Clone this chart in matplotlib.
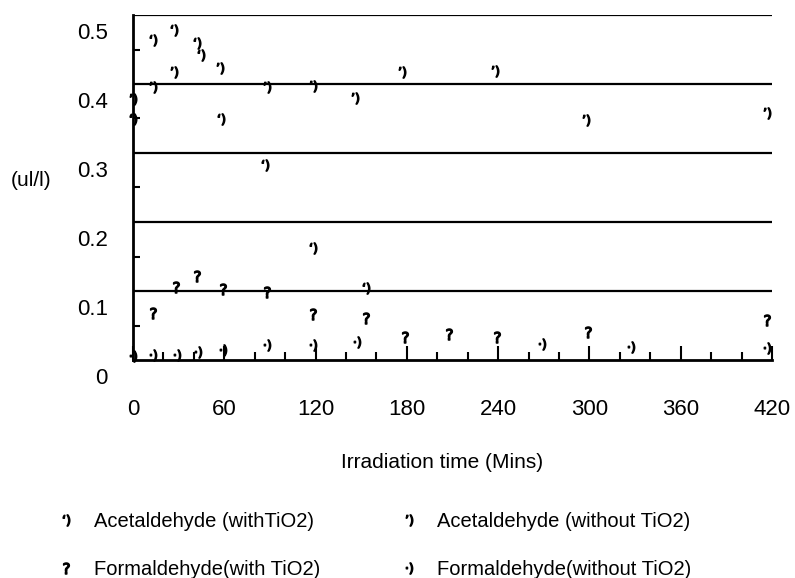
import matplotlib
matplotlib.use("Agg")
import matplotlib.pyplot as plt
import matplotlib.transforms as mtrans
from matplotlib.ticker import MultipleLocator
import numpy as np

# values
acet_with_t = [0, 13, 27, 42, 45, 58, 87, 118, 153]
acet_with_v = [0.350, 0.464, 0.478, 0.459, 0.442, 0.350, 0.283, 0.162, 0.104]

acet_without_t = [0, 13, 27, 57, 88, 118, 146, 177, 238, 298, 417]
acet_without_v = [0.378, 0.396, 0.418, 0.423, 0.396, 0.397, 0.380, 0.418, 0.419, 0.348, 0.358]

form_with_t = [13, 28, 42, 59, 88, 118, 153, 179, 208, 239, 299, 417]
form_with_v = [0.068, 0.106, 0.122, 0.103, 0.099, 0.067, 0.061, 0.033, 0.037, 0.033, 0.040, 0.058]

form_without_t = [0, 13, 29, 43, 59, 88, 118, 147, 269, 327, 417]
form_without_v = [0.006, 0.007, 0.007, 0.012, 0.014, 0.022, 0.022, 0.026, 0.023, 0.019, 0.017]

labels = ["Acetaldehyde (withTiO2)", "Acetaldehyde (without TiO2)",
          "Formaldehyde(with TiO2)", "Formaldehyde(without TiO2)"]

fam = ["Liberation Sans", "DejaVu Sans"]

fig = plt.figure(figsize=(7.95, 5.78), dpi=100)
ax = fig.add_axes([133 / 795, 1 - 360 / 578, 639 / 795, 345 / 578])

ms = 8
h1, = ax.plot(acet_with_t, acet_with_v, ls="none", marker="$\u2018)$", ms=ms, color="black", clip_on=False)
h2, = ax.plot(acet_without_t, acet_without_v, ls="none", marker="$\u2019)$", ms=ms, color="black", clip_on=False)
h3, = ax.plot(form_with_t, form_with_v, ls="none", marker="$?$", ms=ms, color="black", clip_on=False)
h4, = ax.plot(form_without_t, form_without_v, ls="none", marker="$\u00b7)$", ms=ms, color="black", clip_on=False)

ax.set_xlim(0, 420)
ax.set_ylim(0, 0.5)

# horizontal rules
for y in [0.1, 0.2, 0.3, 0.4, 0.5]:
    ax.axhline(y, color="black", lw=1.6, zorder=1)

for s in ["top", "right"]:
    ax.spines[s].set_visible(False)
ax.spines["left"].set_linewidth(2)
ax.spines["bottom"].set_linewidth(2)

ax.xaxis.set_major_locator(MultipleLocator(60))
ax.xaxis.set_minor_locator(MultipleLocator(20))
ax.yaxis.set_major_locator(MultipleLocator(0.1))
ax.yaxis.set_minor_locator(MultipleLocator(0.05))

ax.tick_params(axis="x", which="major", direction="in", length=10, width=1.5, pad=28)
ax.tick_params(axis="x", which="minor", direction="in", length=6, width=1.5)
ax.tick_params(axis="y", which="major", length=0, pad=18)
ax.tick_params(axis="y", which="minor", direction="in", length=5, width=1.5)

ax.set_xticks(np.arange(0, 421, 60))
ax.set_xticklabels([str(v) for v in range(0, 421, 60)], family=fam, fontsize=16)
ax.set_yticks([0, 0.1, 0.2, 0.3, 0.4, 0.5])
ax.set_yticklabels(["0", "0.1", "0.2", "0.3", "0.4", "0.5"], family=fam, fontsize=16)

# y labels sit a bit below their rules in the original
off = mtrans.ScaledTranslation(0, -0.16, fig.dpi_scale_trans)
for lab in ax.get_yticklabels():
    lab.set_transform(lab.get_transform() + off)

fig.text(442 / 795, 1 - 463 / 578, "Irradiation time (Mins)", family=fam, fontsize=15,
         ha="center", va="center")
fig.text(31 / 795, 1 - 180 / 578, "(ul/l)", family=fam, fontsize=15, ha="center", va="center")

fig.legend([h1, h3, h2, h4], [labels[0], labels[2], labels[1], labels[3]],
           ncol=2, loc="upper left", bbox_to_anchor=(58 / 795, 1 - 512 / 578),
           bbox_transform=fig.transFigure, frameon=False, prop={"family": fam, "size": 14.5},
           handlelength=0.8, handletextpad=1.0, columnspacing=4.0, labelspacing=1.45,
           borderpad=0, borderaxespad=0, markerscale=1.0)

fig.savefig("out.png", dpi=100)
